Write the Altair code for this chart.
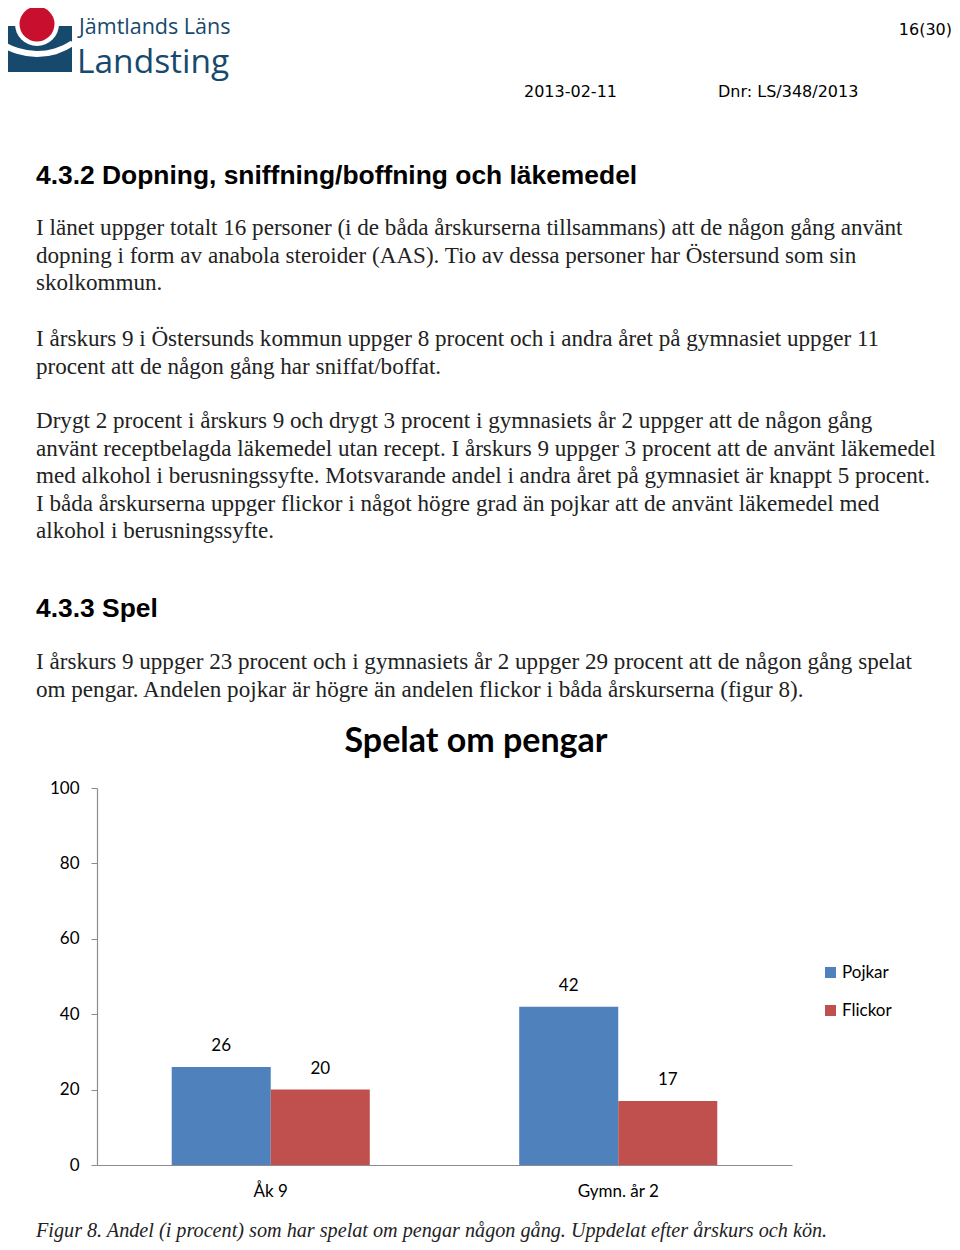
import altair as alt
import pandas as pd

# ---------------- data ----------------
categories = ["Åk 9", "Gymn. år 2"]
series = ["Pojkar", "Flickor"]
pojkar = [26, 42]
flickor = [20, 17]
y_ticks = [0, 20, 40, 60, 80, 100]
series_colors = ["#4F81BD", "#C0504D"]

chart_title = "Spelat om pengar"
page_number = "16(30)"
doc_date = "2013-02-11"
doc_dnr = "Dnr: LS/348/2013"
logo_line1 = "Jämtlands Läns"
logo_line2 = "Landsting"
heading_1 = "4.3.2 Dopning, sniffning/boffning och läkemedel"
paragraph_1 = [
    "I länet uppger totalt 16 personer (i de båda årskurserna tillsammans) att de någon gång använt",
    "dopning i form av anabola steroider (AAS). Tio av dessa personer har Östersund som sin",
    "skolkommun.",
]
paragraph_2 = [
    "I årskurs 9 i Östersunds kommun uppger 8 procent och i andra året på gymnasiet uppger 11",
    "procent att de någon gång har sniffat/boffat.",
]
paragraph_3 = [
    "Drygt 2 procent i årskurs 9 och drygt 3 procent i gymnasiets år 2 uppger att de någon gång",
    "använt receptbelagda läkemedel utan recept. I årskurs 9 uppger 3 procent att de använt läkemedel",
    "med alkohol i berusningssyfte. Motsvarande andel i andra året på gymnasiet är knappt 5 procent.",
    "I båda årskurserna uppger flickor i något högre grad än pojkar att de använt läkemedel med",
    "alkohol i berusningssyfte.",
]
heading_2 = "4.3.3 Spel"
paragraph_4 = [
    "I årskurs 9 uppger 23 procent och i gymnasiets år 2 uppger 29 procent att de någon gång spelat",
    "om pengar. Andelen pojkar är högre än andelen flickor i båda årskurserna (figur 8).",
]
caption = "Figur 8. Andel (i procent) som har spelat om pengar någon gång. Uppdelat efter årskurs och kön."

rows = []
for i, c in enumerate(categories):
    rows.append({"Årskurs": c, "Kön": series[0], "Andel": pojkar[i]})
    rows.append({"Årskurs": c, "Kön": series[1], "Andel": flickor[i]})
df = pd.DataFrame(rows)

# ---------------- layout (page pixel geometry) ----------------
PX0, PY0 = 97, 788          # page position of plot-area origin
PLOT_W, PLOT_H = 695, 377
PAGE_W, PAGE_H = 944, 1234
TEXT = "#222222"
LOGO_BLUE = "#17496d"
LOGO_RED = "#c8102e"
SERIF = "Liberation Serif"
CHART_FONT = "Lato"

one = pd.DataFrame({"k": [0]})


def txt(content, x, y, size, font, weight="normal", style="normal", color=TEXT,
        align="left", baseline="middle"):
    return alt.Chart(one).mark_text(
        align=align, baseline=baseline, font=font, fontSize=size,
        fontWeight=weight, fontStyle=style, color=color,
    ).encode(x=alt.value(x - PX0), y=alt.value(y - PY0), text=alt.value(content))


def para(lines, x, y0, size=23.1, lh=27.5):
    return [txt(l, x, y0 + i * lh, size, SERIF) for i, l in enumerate(lines)]


# ---------------- chart ----------------
x_enc = alt.X(
    "Årskurs:N", sort=categories,
    scale=alt.Scale(paddingInner=0.43, paddingOuter=0.215),
    axis=alt.Axis(title=None, labelAngle=0, ticks=False, labelPadding=18,
                  labelFont=CHART_FONT, labelFontSize=17, labelColor="#000",
                  domainColor="#8c8c8c", domainWidth=1.2),
)
xo_enc = alt.XOffset("Kön:N", sort=series, scale=alt.Scale(paddingInner=0, paddingOuter=0))
y_enc = alt.Y(
    "Andel:Q", scale=alt.Scale(domain=[0, 100], nice=False),
    axis=alt.Axis(title=None, values=y_ticks, grid=False, tickSize=6, labelPadding=12,
                  labelFont=CHART_FONT, labelFontSize=17, labelColor="#000",
                  domainColor="#8c8c8c", tickColor="#8c8c8c", domainWidth=1.2),
)
color_enc = alt.Color(
    "Kön:N", sort=series,
    scale=alt.Scale(domain=series, range=series_colors),
    legend=alt.Legend(title=None, orient="none", legendX=725, legendY=176,
                      symbolType="square", symbolSize=121, symbolStrokeWidth=0,
                      labelFont=CHART_FONT, labelFontSize=17, labelColor="#000",
                      labelOffset=3, rowPadding=20, padding=0),
)

bars = alt.Chart(df).mark_bar().encode(x=x_enc, xOffset=xo_enc, y=y_enc, color=color_enc)
labels = alt.Chart(df).mark_text(
    dy=-20.5, baseline="middle", font=CHART_FONT, fontSize=17, color="#000"
).encode(x=alt.X("Årskurs:N", sort=categories), xOffset=alt.XOffset("Kön:N", sort=series),
         y="Andel:Q", text="Andel:Q")

# ---------------- logo ----------------
logo = [
    alt.Chart(one).mark_rect(color=LOGO_BLUE).encode(
        x=alt.value(4 - PX0), x2=alt.value(72 - PX0), y=alt.value(26 - PY0), y2=alt.value(72 - PY0)),
    alt.Chart(one).mark_point(filled=True, shape="circle", size=4 * 22 * 22, color="white", opacity=1).encode(
        x=alt.value(37 - PX0), y=alt.value(24 - PY0)),
    alt.Chart(one).mark_point(filled=True, shape="circle", size=4 * 17.5 * 17.5, color=LOGO_RED, opacity=1).encode(
        x=alt.value(37 - PX0), y=alt.value(24 - PY0)),
    alt.Chart(one).mark_arc(color="white", theta=2.55, theta2=3.75, radius=67, radius2=61).encode(
        x=alt.value(37 - PX0), y=alt.value(-10 - PY0)),
    txt(logo_line1, 79, 28, 21.5, "Open Sans", color=LOGO_BLUE),
    txt(logo_line2, 77, 63, 33.5, "Open Sans", color=LOGO_BLUE),
]

header = [
    txt(page_number, PAGE_W + 8, 30, 16, "DejaVu Sans", align="right", color="#000"),
    txt(doc_date, 524, 92, 16, "DejaVu Sans", color="#000"),
    txt(doc_dnr, 718, 92, 16, "DejaVu Sans", color="#000"),
]

body = (
    [txt(heading_1, 36, 176, 26.4, "Liberation Sans", weight="bold", color="#000")]
    + para(paragraph_1, 36, 228)
    + para(paragraph_2, 36, 339)
    + para(paragraph_3, 36, 421)
    + [txt(heading_2, 36, 609, 26.4, "Liberation Sans", weight="bold", color="#000")]
    + para(paragraph_4, 36, 662)
    + [txt(chart_title, 476, 742, 34, CHART_FONT, weight="bold", color="#000", align="center")]
    + [txt(caption, 36, 1231, 20.2, SERIF, style="italic")]
)

chart = alt.layer(bars, labels, *logo, *header, *body).properties(
    width=PLOT_W, height=PLOT_H,
    background="white",
    autosize=alt.AutoSizeParams(type="none"),
    padding={"left": PX0 - 8, "top": PY0 - 8,
             "right": PAGE_W - (PX0 - 8) - PLOT_W,
             "bottom": PAGE_H - (PY0 - 8) - PLOT_H},
).configure_view(strokeWidth=0)

chart.save("out.html", embed_options={"renderer": "svg", "actions": False})
